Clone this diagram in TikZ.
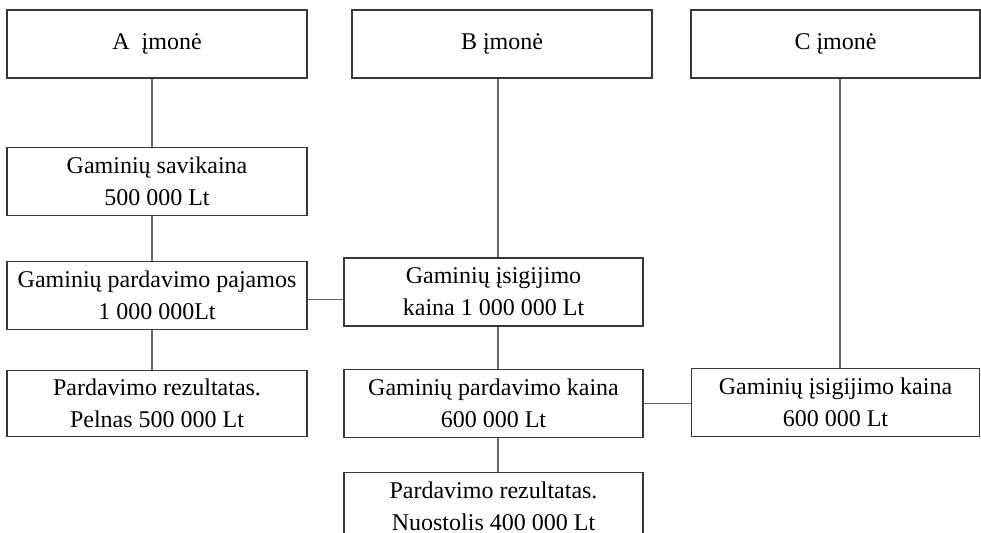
\documentclass[tikz,border=0pt]{standalone}
\usepackage{fontspec}
\setmainfont{Liberation Serif}
\usetikzlibrary{positioning}
\definecolor{boxgray}{RGB}{55, 55, 55}
\definecolor{linegray}{RGB}{105, 105, 105}

\begin{document}
\begin{tikzpicture}[
    x=0.5pt, y=-0.5pt,
    box/.style={draw=boxgray, line width=0.6pt, minimum width=150pt,
                minimum height=34pt, inner sep=1pt, align=center,
                font=\fontsize{12}{16}\selectfont},
    narrow/.style={box, minimum width=144.5pt},
    lnk/.style={draw=linegray, line width=0.6pt},
]
\useasboundingbox (0,0) rectangle (981,533);

% --- Firms ---
\node[box] at (157,44) (firm_a) {A~ įmonė};
\node[box] at (502,44) (firm_b) {B įmonė};
\node[narrow] at (835.5,44) (firm_c) {C įmonė};

% --- A column ---
\node[box, below=34pt of firm_a] (a_cost) {Gaminių savikaina\\500 000 Lt};
\node[box, below=22.5pt of a_cost] (a_sale) {Gaminių pardavimo pajamos\\1 000 000Lt};
\node[box, below=20pt of a_sale, minimum height=33pt] (a_res) {Pardavimo rezultatas.\\Pelnas 500 000 Lt};

% --- B column ---
\node[box, minimum width=149.5pt] at (493.5,292) (b_buy) {Gaminių įsigijimo\\kaina 1 000 000 Lt};
\node[box, minimum width=149.5pt, below=21pt of b_buy] (b_sale) {Gaminių pardavimo kaina\\600 000 Lt};
\node[box, minimum width=149.5pt, below=17pt of b_sale] (b_res) {Pardavimo rezultatas.\\Nuostolis 400 000 Lt};

% --- C column ---
\node[narrow, minimum width=144pt, below=144.5pt of firm_c] (c_buy) {Gaminių įsigijimo kaina\\600 000 Lt};

% ---- Connectors ----
\draw[lnk] ([xshift=-2.5pt]firm_a.south) -- ([xshift=-2.5pt]a_cost.north);
\draw[lnk] ([xshift=-2.5pt]a_cost.south) -- ([xshift=-2.5pt]a_sale.north);
\draw[lnk] ([xshift=-2.5pt]a_sale.south) -- ([xshift=-2.5pt]a_res.north);
\draw[lnk] ([xshift=-2pt]firm_b.south) -- ([xshift=2.25pt]b_buy.north);
\draw[lnk] ([xshift=2.25pt]b_buy.south) -- ([xshift=2.25pt]b_sale.north);
\draw[lnk] ([xshift=2.25pt]b_sale.south) -- ([xshift=2.25pt]b_res.north);
\draw[lnk] ([xshift=2.25pt]firm_c.south) -- ([xshift=2.25pt]c_buy.north);
\draw[lnk] ([yshift=-2pt]a_sale.east) -- ([yshift=-2pt]a_sale.east -| b_buy.west);
\draw[lnk] (b_sale.east) -- (b_sale.east -| c_buy.west);

\end{tikzpicture}
\end{document}
